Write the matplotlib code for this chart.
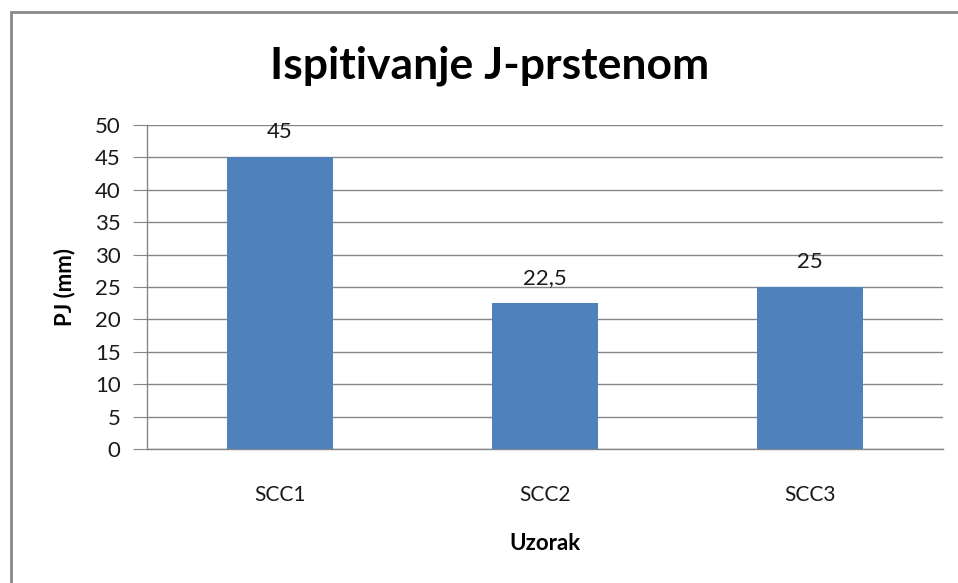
import numpy as np
import matplotlib.pyplot as plt
from matplotlib.patches import Rectangle

categories = ["SCC1", "SCC2", "SCC3"]
values = [45, 22.5, 25]
value_labels = ["45", "22,5", "25"]
y_ticks = [0, 5, 10, 15, 20, 25, 30, 35, 40, 45, 50]

plt.rcParams['font.family'] = ['Lato', 'DejaVu Sans']

W, H = 958, 583
fig = plt.figure(figsize=(W / 100, H / 100), dpi=100)
ax = fig.add_axes([147 / W, 1 - 449 / H, (943 - 147) / W, (449 - 125) / H])

grid_col = '#868686'
x = np.arange(len(categories))
ax.bar(x, values, width=0.4, color='#4F81BD', zorder=3)
ax.set_xlim(-0.5, len(categories) - 0.5)
ax.set_ylim(0, 50)
ax.set_yticks(y_ticks)
ax.set_xticks(x)
ax.set_xticklabels(categories)
ax.tick_params(axis='y', length=10, color=grid_col, labelsize=16, pad=9, labelcolor='#1a1a1a')
ax.tick_params(axis='x', length=0, labelsize=15, pad=26, labelcolor='#1a1a1a')
ax.yaxis.grid(True, color=grid_col, lw=1, zorder=0)

for s in ['top', 'right']:
    ax.spines[s].set_visible(False)
for s in ['left', 'bottom']:
    ax.spines[s].set_color(grid_col)
    ax.spines[s].set_linewidth(1)

for xi, v, lab in zip(x, values, value_labels):
    ax.annotate(lab, (xi, v), xytext=(0, 11), textcoords='offset points',
                ha='center', va='bottom', fontsize=16, color='#1a1a1a')

ax.set_ylabel("PJ (mm)", fontsize=16, fontweight='bold', labelpad=14)
ax.set_xlabel("Uzorak", fontsize=16, fontweight='bold', labelpad=20)

fig.text(490 / W, 1 - 66 / H, "Ispitivanje J-prstenom", ha='center', va='center',
         fontsize=32, fontweight='bold')

fig.patches.append(Rectangle((11 / W, -0.1), 1.2, 1 - 12 / H + 0.1, transform=fig.transFigure,
                             fill=False, edgecolor='#888888', lw=2))

fig.savefig("out.png", dpi=100)
